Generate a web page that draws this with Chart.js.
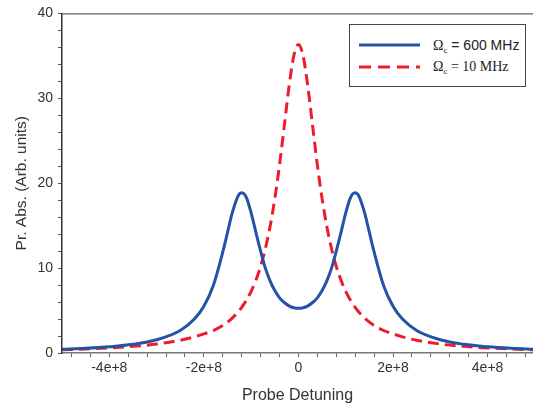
<!DOCTYPE html>
<html>
<head>
<meta charset="utf-8">
<script src="https://cdn.jsdelivr.net/npm/chart.js@4"></script>
<style>
  body { margin: 0; background: #fff; }
  #wrap { position: relative; width: 533px; height: 406px; }
  #chart { display: block; }
  #legend {
    position: absolute; left: 349px; top: 24px; width: 175px; height: 61px;
    border: 1px solid #444; background: #fff; color: #222;
  }
  .row { position: absolute; left: 0; width: 100%; height: 20px; }
  .row svg { position: absolute; left: 9px; top: 0; }
  .row .txt { position: absolute; left: 83px; top: 1px; font-size: 14px; line-height: 18px; white-space: nowrap; }
  .om { font-family: "Liberation Serif", serif; }
  .om sub { font-size: 9px; vertical-align: -3px; }
</style>
</head>
<body>
<div id="wrap">
  <canvas id="chart" width="533" height="406"></canvas>
  <div id="legend"></div>
</div>
<script>
// probe detuning (Hz)
const detuning = [
  -5e8, -4.5e8, -4e8, -3.5e8, -3e8, -2.5e8, -2.2e8, -2e8, -1.8e8, -1.6e8,
  -1.5e8, -1.4e8, -1.3e8, -1.25e8, -1.2e8, -1.15e8, -1.1e8, -1e8, -0.9e8, -0.8e8,
  -0.7e8, -0.6e8, -0.5e8, -0.4e8, -0.3e8, -0.2e8, -0.1e8, 0,
  0.1e8, 0.2e8, 0.3e8, 0.4e8, 0.5e8, 0.6e8, 0.7e8, 0.8e8, 0.9e8, 1e8,
  1.1e8, 1.15e8, 1.2e8, 1.25e8, 1.3e8, 1.4e8, 1.5e8, 1.6e8, 1.8e8, 2e8,
  2.2e8, 2.5e8, 3e8, 3.5e8, 4e8, 4.5e8, 5e8
];

// Omega_c = 600 MHz (split peaks)
const absStrong = [
  0.43, 0.55, 0.73, 1.02, 1.56, 2.66, 4.0, 5.5, 7.95, 11.9,
  14.2, 16.5, 18.2, 18.72, 18.88, 18.75, 18.3, 16.5, 14.2, 12.0,
  10.0, 8.5, 7.35, 6.5, 5.95, 5.55, 5.33, 5.26,
  5.33, 5.55, 5.95, 6.5, 7.35, 8.5, 10.0, 12.0, 14.2, 16.5,
  18.3, 18.75, 18.88, 18.72, 18.2, 16.5, 14.2, 11.9, 7.95, 5.5,
  4.0, 2.66, 1.56, 1.02, 0.73, 0.55, 0.43
];

// Omega_c = 10 MHz (single peak)
const absWeak = [
  0.38, 0.47, 0.6, 0.78, 1.05, 1.5, 1.9, 2.25, 2.65, 3.23,
  3.63, 4.11, 4.68, 5.01, 5.38, 5.78, 6.22, 7.27, 8.57, 10.21,
  12.28, 14.9, 18.18, 22.16, 26.73, 31.34, 34.95, 36.35,
  34.95, 31.34, 26.73, 22.16, 18.18, 14.9, 12.28, 10.21, 8.57, 7.27,
  6.22, 5.78, 5.38, 5.01, 4.68, 4.11, 3.63, 3.23, 2.65, 2.25,
  1.9, 1.5, 1.05, 0.78, 0.6, 0.47, 0.38
];

const xLabelTicks = [-4e8, -2e8, 0, 2e8, 4e8];
const xLabels = ['-4e+8', '-2e+8', '0', '2e+8', '4e+8'];

const seriesNames = ['600 MHz', '10 MHz'];
const seriesColors = ['#2452a4', '#ee1c2b'];

const sans = '"Liberation Sans", Arial, sans-serif';

const toPoints = (ys) => detuning.map((x, i) => ({ x: x, y: ys[i] }));

// top frame line
const frameTop = {
  id: 'frameTop',
  afterDraw(chart) {
    const { ctx, chartArea } = chart;
    ctx.save();
    ctx.strokeStyle = '#666';
    ctx.lineWidth = 1.2;
    ctx.beginPath();
    ctx.moveTo(chartArea.left, chartArea.top + 0.5);
    ctx.lineTo(chartArea.right, chartArea.top + 0.5);
    ctx.stroke();
    ctx.restore();
  }
};

const chart = new Chart(document.getElementById('chart'), {
  type: 'line',
  data: {
    datasets: [
      {
        label: 'Ωc = ' + seriesNames[0],
        data: toPoints(absStrong),
        borderColor: seriesColors[0],
        borderWidth: 3,
        pointRadius: 0,
        cubicInterpolationMode: 'monotone'
      },
      {
        label: 'Ωc = ' + seriesNames[1],
        data: toPoints(absWeak),
        borderColor: seriesColors[1],
        borderWidth: 3,
        borderDash: [11, 6],
        pointRadius: 0,
        cubicInterpolationMode: 'monotone'
      }
    ]
  },
  options: {
    responsive: false,
    animation: false,
    devicePixelRatio: 1,
    layout: { padding: { top: 13, right: 0, left: 0, bottom: 0 } },
    plugins: {
      legend: { display: false },
      tooltip: { enabled: false }
    },
    scales: {
      x: {
        type: 'linear',
        min: -5e8,
        max: 4.96e8,
        afterFit: (s) => { s.height = 53; },
        // minor ticks every 4e7, labels only on the majors
        afterBuildTicks: (s) => {
          const t = [];
          for (let k = -12; k <= 12; k++) t.push({ value: k * 4e7 });
          s.ticks = t;
        },
        border: { color: '#777', width: 1.5 },
        grid: { drawOnChartArea: false, tickLength: 4, color: '#666' },
        ticks: {
          autoSkip: false,
          maxRotation: 0,
          padding: 3,
          color: '#333',
          font: { family: sans, size: 14 },
          callback: function (v) {
            const i = xLabelTicks.findIndex(t => Math.abs(t - v) < 1);
            return i >= 0 ? xLabels[i] : '';
          }
        },
        title: {
          display: true,
          text: 'Probe Detuning',
          color: '#333',
          font: { family: sans, size: 16 },
          padding: { top: 0, bottom: 1 }
        }
      },
      y: {
        min: 0,
        max: 40,
        afterFit: (s) => { s.width = 62; },
        border: { color: '#333', width: 1.5 },
        grid: { drawOnChartArea: false, tickLength: 4, color: '#555' },
        ticks: {
          stepSize: 2,
          autoSkip: false,
          maxTicksLimit: 100,
          padding: 5,
          color: '#333',
          font: { family: sans, size: 14 },
          callback: function (v) {
            return v % 10 === 0 ? String(v) : '';
          }
        },
        title: {
          display: true,
          text: 'Pr. Abs. (Arb. units)',
          color: '#333',
          font: { family: sans, size: 15.5 },
          padding: { top: 12, bottom: 0 }
        }
      }
    }
  },
  plugins: [frameTop]
});

// html legend so the subscript can stay real text
const legend = document.getElementById('legend');
chart.data.datasets.forEach((ds, i) => {
  const row = document.createElement('div');
  row.className = 'row';
  row.style.top = (i === 0 ? 10 : 32) + 'px';
  const dash = ds.borderDash ? ' stroke-dasharray="12 7"' : '';
  const valFont = i === 0 ? sans : '"Liberation Serif", serif';
  row.innerHTML =
    '<svg width="62" height="20"><line x1="0" y1="10" x2="61" y2="10" stroke="' + ds.borderColor +
    '" stroke-width="3"' + dash + '/></svg>' +
    '<span class="txt"><span class="om">Ω<sub>c</sub></span>' +
    '<span style="font-family:' + valFont.replace(/"/g, "'") + '"> = ' + seriesNames[i] + '</span></span>';
  legend.appendChild(row);
});
</script>
</body>
</html>
